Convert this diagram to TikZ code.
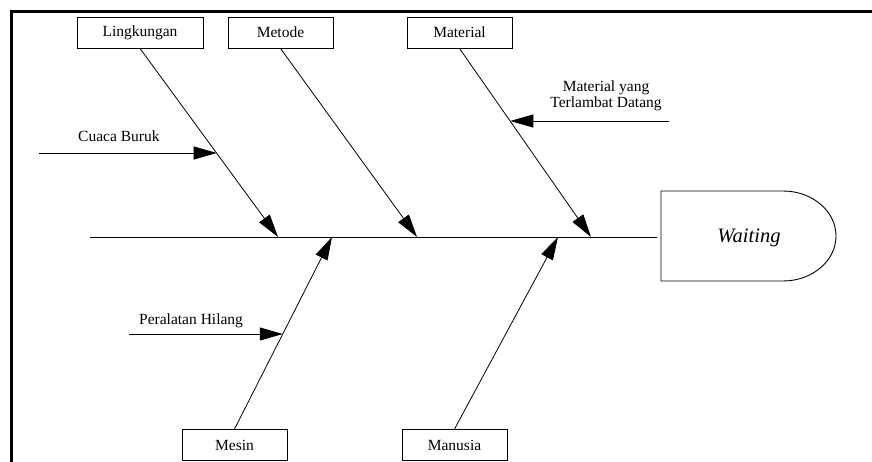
\documentclass[tikz,border=0pt]{standalone}
\usepackage{fontspec}
\setmainfont{Liberation Serif}
\usetikzlibrary{arrows.meta,calc}
\begin{document}
\begin{tikzpicture}[x=1pt,y=-1pt,
  catbox/.style={draw,line width=0.9pt,minimum width=126pt,minimum height=31pt,inner sep=0pt,font=\fontsize{15.5}{17}\selectfont},
  lbl/.style={inner sep=0pt,font=\fontsize{15.5}{16.5}\selectfont},
  branch/.style={line width=0.8pt,-{Triangle[length=23pt,width=13pt]}},
  frame/.style={line width=3pt}]
\useasboundingbox (0,0) rectangle (872,462);
% frame
\coordinate (f0) at (10,11.5);
\coordinate (f1) at (872,11.5);
\coordinate (f2) at (11.5,10);
\coordinate (f3) at (11.5,462);
\draw[frame] (f0) -- (f1);
\draw[frame] (f2) -- (f3);
% category boxes
\node[catbox] (lingk) at (140,32.5) {Lingkungan};
\node[catbox,minimum width=105pt] (metode) at (280.5,32.5) {Metode};
\node[catbox,minimum width=105pt] (material) at (459.5,32.5) {Material};
\node[catbox,minimum width=105pt] (mesin) at (234.5,445) {Mesin};
\node[catbox,minimum width=105pt] (manusia) at (454.5,445) {Manusia};
% spine
\coordinate (s0) at (90,237);
\coordinate (s1) at (657,237);
\draw[line width=0.8pt] (s0) -- (s1);
% head
\node[inner sep=0pt,font=\fontsize{20.5}{22}\selectfont\itshape] (head) at (749,238) {Waiting};
\draw[line width=0.9pt] (661,191) -- (783,191) arc[start angle=-90,end angle=90,x radius=53,y radius=45] -- (661,281) -- cycle;
% spine points
\coordinate (p1) at (278,237);
\coordinate (p2) at (417,237);
\coordinate (p3) at (591,237);
\coordinate (p4) at (332,237);
\coordinate (p5) at (558,237);
% main branches
\draw[branch] (lingk.south) -- (p1);
\draw[branch] (metode.south) -- (p2);
\draw[branch] (material.south) -- (p3);
\draw[branch] (mesin.north) -- (p4);
\draw[branch] (manusia.north) -- (p5);
% sub causes
\coordinate (c1) at ($(lingk.south)!0.556!(p1)$);
\coordinate (c1s) at (39,153);
\draw[branch] (c1s) -- (c1|-c1s);
\node[lbl,anchor=west] (cuaca) at (78,136) {Cuaca Buruk};
\coordinate (c2) at ($(material.south)!0.386!(p3)$);
\coordinate (c2s) at (669,121);
\draw[branch] (c2s) -- (c2|-c2s);
\node[lbl,align=center] (telat) at (606,96) {Material yang\\Terlambat Datang};
\coordinate (c3) at ($(mesin.north)!0.495!(p4)$);
\coordinate (c3s) at (129,334);
\draw[branch] (c3s) -- (c3|-c3s);
\node[lbl,anchor=west] (alat) at (139,321) {Peralatan Hilang};
\end{tikzpicture}
\end{document}
